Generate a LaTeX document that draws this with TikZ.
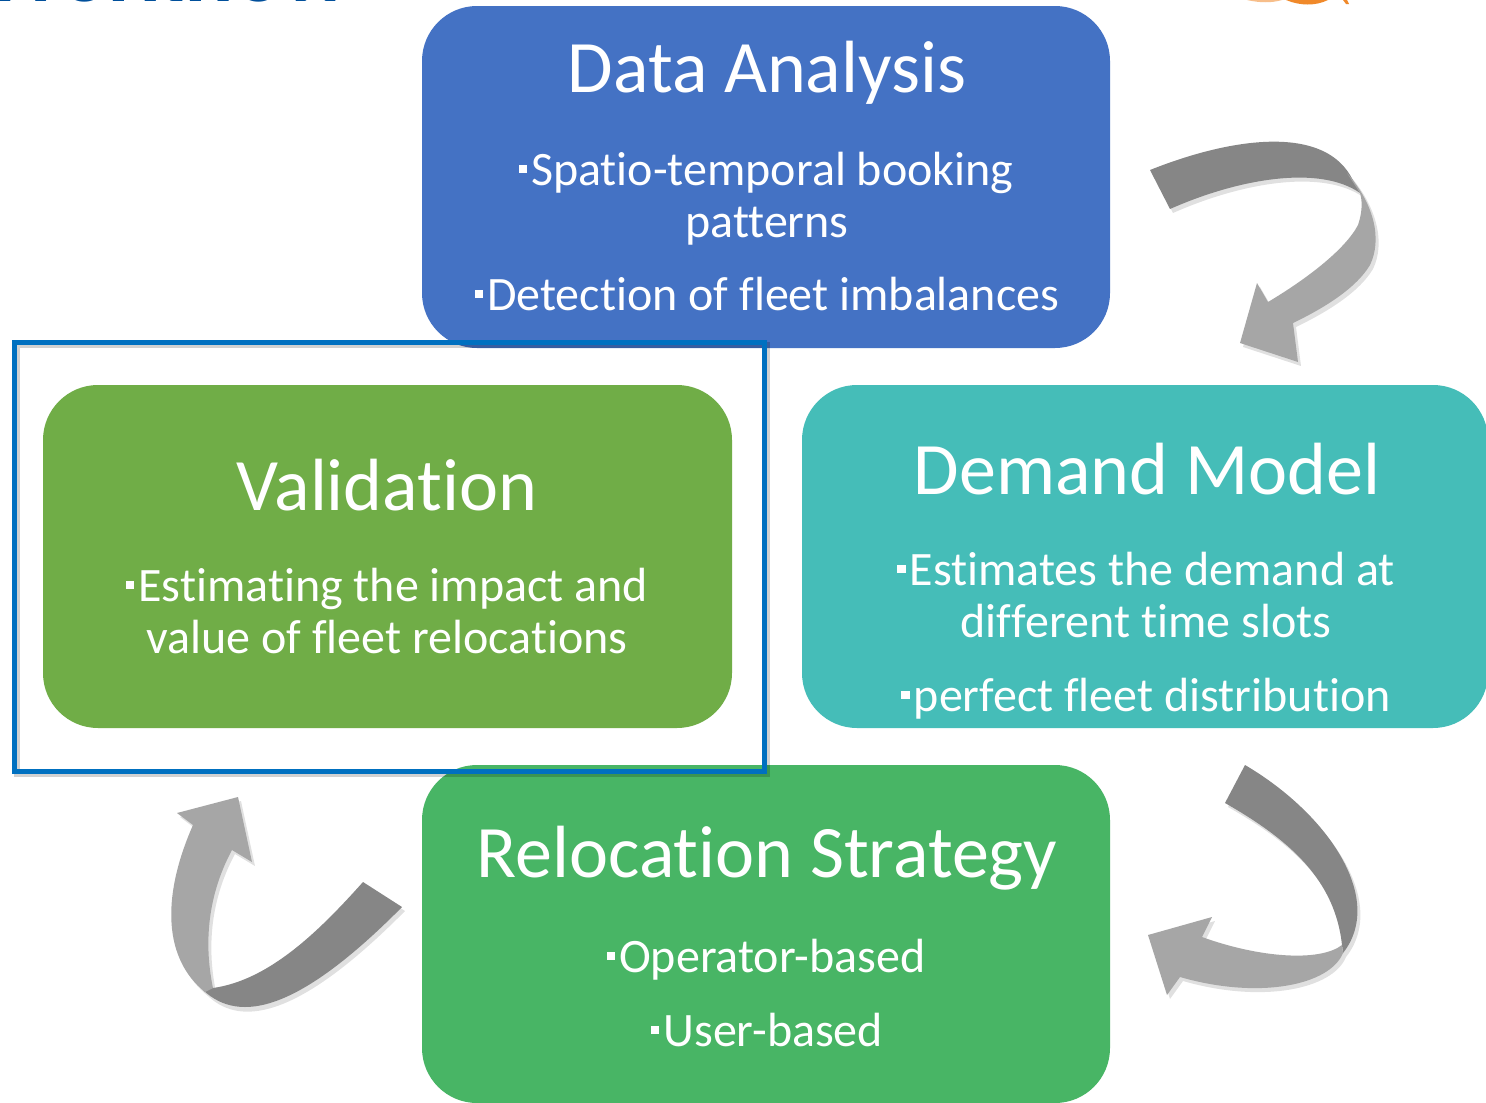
\documentclass[tikz,border=0pt]{standalone}
\usepackage{fontspec}
\setmainfont{Carlito}[Ligatures=NoCommon]
\definecolor{dablue}{HTML}{4472C4}
\definecolor{valgreen}{HTML}{70AD47}
\definecolor{demteal}{HTML}{45BDB8}
\definecolor{relgreen}{HTML}{48B565}
\definecolor{framblue}{HTML}{0070C0}
\definecolor{arrdark}{HTML}{868686}
\definecolor{arrlight}{HTML}{A6A6A6}
\definecolor{ttlblue}{HTML}{004F9B}
\definecolor{logoorange}{HTML}{F0892A}
\newcommand\sqbul{\raisebox{12pt}{\rule{8.5pt}{8.5pt}}\hspace{4pt}}
% keeps two letters apart so the font does not join them
\newcommand\nj{\kern0pt{}}
\tikzset{
  card/.style={rounded corners=55pt, inner sep=0pt, draw=none},
  ttl/.style={text=white, font=\fontsize{74}{80}\selectfont, anchor=base, inner sep=0pt},
  itm/.style={text=white, font=\fontsize{48}{52}\selectfont, anchor=base, inner sep=0pt},
  back/.style={fill=arrdark},
  front/.style={fill=arrlight},
  shade/.style={fill=black, opacity=0.12},
}
\begin{document}
\begin{tikzpicture}[x=1pt, y=-1pt]
\useasboundingbox (0,0) rectangle (1486,1103);
\clip (0,0) rectangle (1486,1103);
\fill[white] (0,0) rectangle (1486,1103);

% heading and logo, cut by the top edge
\node[font=\bfseries\fontsize{90}{92}\selectfont, text=ttlblue, anchor=base east, inner sep=0pt] (wf) at (350,1) {Workf\nj low};
\fill[logoorange!55] (1247,0) .. controls (1260,3) and (1272,3) .. (1282,0) -- cycle;
\fill[logoorange] (1286,0) .. controls (1300,6) and (1316,6) .. (1328,0) -- cycle;
\fill[logoorange] (1343,0) -- (1346,4) -- (1349,4) -- (1347,0) -- cycle;

% the four stages
\node[card, fill=dablue, minimum width=688pt, minimum height=342pt] (da) at (766,177) {};
\node[card, fill=valgreen, minimum width=689pt, minimum height=343pt] (val) at (387.5,556.5) {};
\node[card, fill=demteal, minimum width=686pt, minimum height=343pt] (dem) at (1145,556.5) {};
\node[card, fill=relgreen, minimum width=688pt, minimum height=338pt] (rel) at (766,934) {};

\node[ttl] (daT) at (767,92) {Data Analysis};
\node[itm] (da1) at (766,185) {\sqbul Spat\nj io-temporal booking};
\node[itm] (da2) at (767,237) {patterns};
\node[itm] (da3) at (767,310) {\sqbul Detect\nj ion of f\nj leet imbalances};

\node[ttl] (valT) at (387,510) {Validat\nj ion};
\node[itm] (val1) at (387,601) {\sqbul Estimat\nj ing the impact and};
\node[itm] (val2) at (387,653) {value of f\nj leet relocat\nj ions};

\node[ttl] (demT) at (1147,494) {Demand Model};
\node[itm] (dem1) at (1146,585) {\sqbul Estimates the demand at};
\node[itm] (dem2) at (1146,637) {dif\nj f\nj erent t\nj ime slots};
\node[itm] (dem3) at (1146,711) {\sqbul perfect f\nj leet distribut\nj ion};

\node[ttl] (relT) at (767,877) {Relocat\nj ion Strategy};
\node[itm] (rel1) at (766,972) {\sqbul Operator-based};
\node[itm] (rel2) at (767,1046) {\sqbul User-based};

% highlight frame round the validation stage
\draw[black, opacity=0.18, line width=5.5pt] (17,345) rectangle (767,774);
\draw[framblue, line width=5pt] (14,342) rectangle (764,771);

% ribbon arrow: data analysis -> demand model
\begin{scope}[shift={(3,4)}]
\fill[shade] (1150,170) .. controls (1230,138) and (1320,125) .. (1348,173)
  .. controls (1375,205) and (1382,240) .. (1370,265)
  .. controls (1355,290) and (1320,310) .. (1293,323) -- (1298,362) -- (1240,343) -- (1257,283)
  -- (1268,302) .. controls (1305,280) and (1345,250) .. (1358,225)
  .. controls (1363,210) and (1362,200) .. (1360,193)
  .. controls (1320,165) and (1240,178) .. (1170,209) -- cycle;
\end{scope}
\fill[back] (1150,170) .. controls (1230,138) and (1320,125) .. (1350,175)
  -- (1360,193) .. controls (1320,165) and (1240,178) .. (1170,209) -- cycle;
\fill[front] (1347,173) .. controls (1375,205) and (1382,240) .. (1370,265)
  .. controls (1355,290) and (1320,310) .. (1293,323) -- (1298,362) -- (1240,343) -- (1257,283)
  -- (1268,302) .. controls (1305,280) and (1345,250) .. (1358,225)
  .. controls (1363,210) and (1362,200) .. (1360,193) -- cycle;

% ribbon arrow: demand model -> relocation strategy
\begin{scope}[shift={(3,4)}]
\fill[shade] (1245,765) .. controls (1330,815) and (1385,900) .. (1343,953)
  .. controls (1330,985) and (1260,1000) .. (1180,977) -- (1167,995) -- (1148,935) -- (1212,917)
  -- (1202,937) .. controls (1260,958) and (1320,962) .. (1342,945)
  .. controls (1335,880) and (1290,840) .. (1225,803) -- cycle;
\end{scope}
\fill[back] (1245,765) .. controls (1330,815) and (1385,900) .. (1343,953)
  -- (1342,945) .. controls (1335,880) and (1290,840) .. (1225,803) -- cycle;
\fill[front] (1343,953) .. controls (1330,985) and (1260,1000) .. (1180,977)
  -- (1167,995) -- (1148,935) -- (1212,917) -- (1202,937)
  .. controls (1260,958) and (1320,962) .. (1342,945) -- cycle;

% ribbon arrow: relocation strategy -> validation
\begin{scope}[shift={(3,4)}]
\fill[shade] (205,992) .. controls (240,1025) and (300,1010) .. (402,907) -- (363,882)
  .. controls (320,930) and (270,980) .. (213,988)
  .. controls (205,950) and (205,900) .. (232,850) -- (252,862) -- (238,797) -- (177,813) -- (193,825)
  .. controls (160,900) and (165,960) .. (205,992) -- cycle;
\end{scope}
\fill[back] (203,990) .. controls (240,1025) and (300,1010) .. (402,907)
  -- (363,882) .. controls (320,930) and (270,980) .. (213,988) -- cycle;
\fill[front] (205,992) .. controls (165,960) and (160,900) .. (193,825)
  -- (177,813) -- (238,797) -- (252,862) -- (232,850)
  .. controls (205,900) and (205,950) .. (213,988) -- cycle;
\end{tikzpicture}
\end{document}
